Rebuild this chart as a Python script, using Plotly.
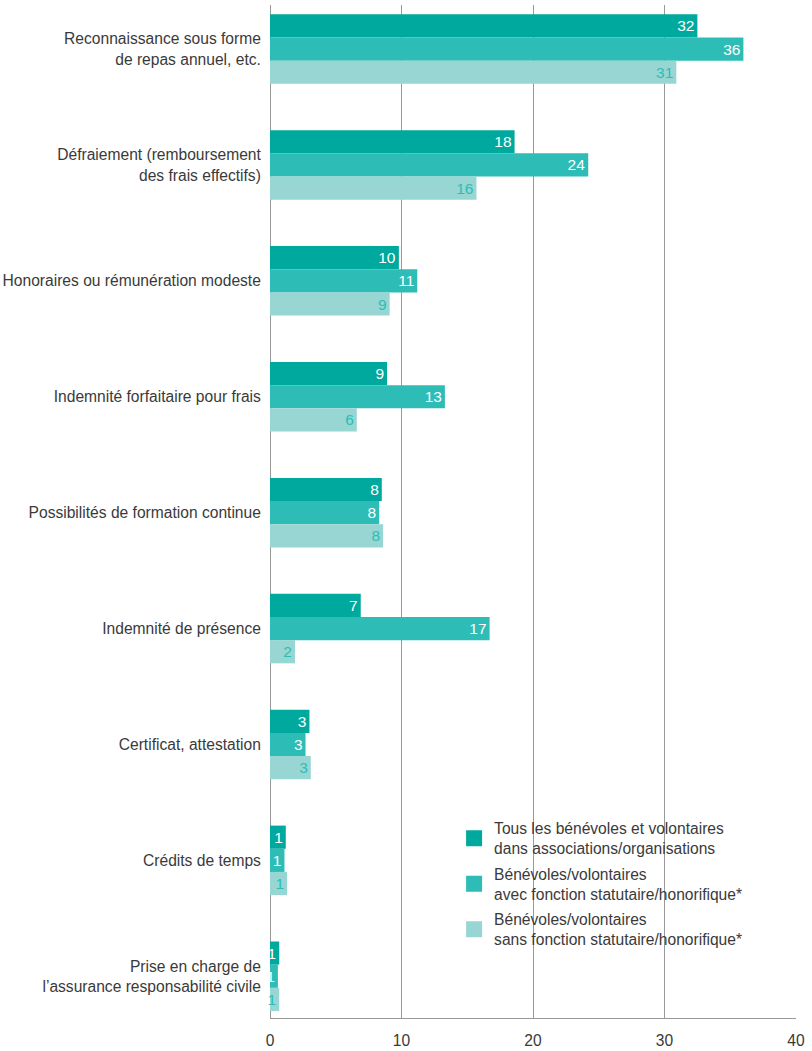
import plotly.graph_objects as go

categories = [
    "Reconnaissance sous forme<br>de repas annuel, etc.",
    "Défraiement (remboursement<br>des frais effectifs)",
    "Honoraires ou rémunération modeste",
    "Indemnité forfaitaire pour frais",
    "Possibilités de formation continue",
    "Indemnité de présence",
    "Certificat, attestation",
    "Crédits de temps",
    "Prise en charge de<br>l’assurance responsabilité civile",
]
series_names = [
    "Tous les bénévoles et volontaires<br>dans associations/organisations",
    "Bénévoles/volontaires<br>avec fonction statutaire/honorifique*",
    "Bénévoles/volontaires<br>sans fonction statutaire/honorifique*",
]
tous = [32.5, 18.6, 9.8, 8.9, 8.5, 6.9, 3.0, 1.2, 0.7]
avec = [36.0, 24.2, 11.2, 13.3, 8.3, 16.7, 2.7, 1.1, 0.6]
sans = [30.9, 15.7, 9.1, 6.6, 8.6, 1.9, 3.1, 1.3, 0.7]
tous_lbl = [32, 18, 10, 9, 8, 7, 3, 1, 1]
avec_lbl = [36, 24, 11, 13, 8, 17, 3, 1, 1]
sans_lbl = [31, 16, 9, 6, 8, 2, 3, 1, 1]
x_ticks = [0, 10, 20, 30, 40]

colors = ["#00a99d", "#2dbdb6", "#98d6d3"]
text_colors = ["white", "white", "#2dbdb6"]
FONT = "Liberation Sans"
TXT = "#3a3a3a"
FS = 15.6

fig = go.Figure()
for vals, lbls, name, col, tcol in zip([tous, avec, sans], [tous_lbl, avec_lbl, sans_lbl],
                                        series_names, colors, text_colors):
    fig.add_trace(go.Bar(
        y=categories, x=vals, orientation="h", name=name,
        marker=dict(color=col, line=dict(width=0)),
        text=[str(v) for v in lbls], textposition="inside", insidetextanchor="end",
        constraintext="none", textangle=0,
        textfont=dict(color=tcol, size=15.5, family=FONT),
        showlegend=False, cliponaxis=False, hoverinfo="skip",
    ))

# legend entries
for i, (name, col) in enumerate(zip(series_names, colors)):
    fig.add_trace(go.Scatter(
        x=[None], y=[None], mode="markers", name=name,
        marker=dict(symbol="square", size=16, color=col),
        legendgroup=f"g{i}", showlegend=True,
    ))

fig.update_layout(
    width=812, height=1051,
    margin=dict(l=270, r=16, t=5, b=33),
    paper_bgcolor="white", plot_bgcolor="white",
    barmode="group", bargap=0.4, bargroupgap=0,
    font=dict(family=FONT, size=FS, color=TXT),
    legend=dict(x=0.350, y=0.204, xanchor="left", yanchor="top",
                font=dict(size=FS, color=TXT, family=FONT),
                tracegroupgap=2, bgcolor="rgba(0,0,0,0)",
                itemsizing="trace"),
    xaxis=dict(range=[0, 40], tickvals=x_ticks, showgrid=True, gridcolor="#999",
               gridwidth=1, zeroline=True, zerolinecolor="#999", zerolinewidth=1.2,
               showline=True, linecolor="#999", linewidth=1,
               ticks="outside", ticklen=8, tickcolor="rgba(0,0,0,0)",
               tickfont=dict(size=FS, color=TXT), fixedrange=True, automargin=False),
    yaxis=dict(type="category", range=[8.36, -0.38], showgrid=False, zeroline=False,
               showline=False, ticks="outside", ticklen=5, tickcolor="rgba(0,0,0,0)",
               tickfont=dict(size=FS, color=TXT), automargin=False, fixedrange=True),
)

fig.write_html("out.html", config={"displayModeBar": False},
               post_script="document.body.style.margin='0';")
